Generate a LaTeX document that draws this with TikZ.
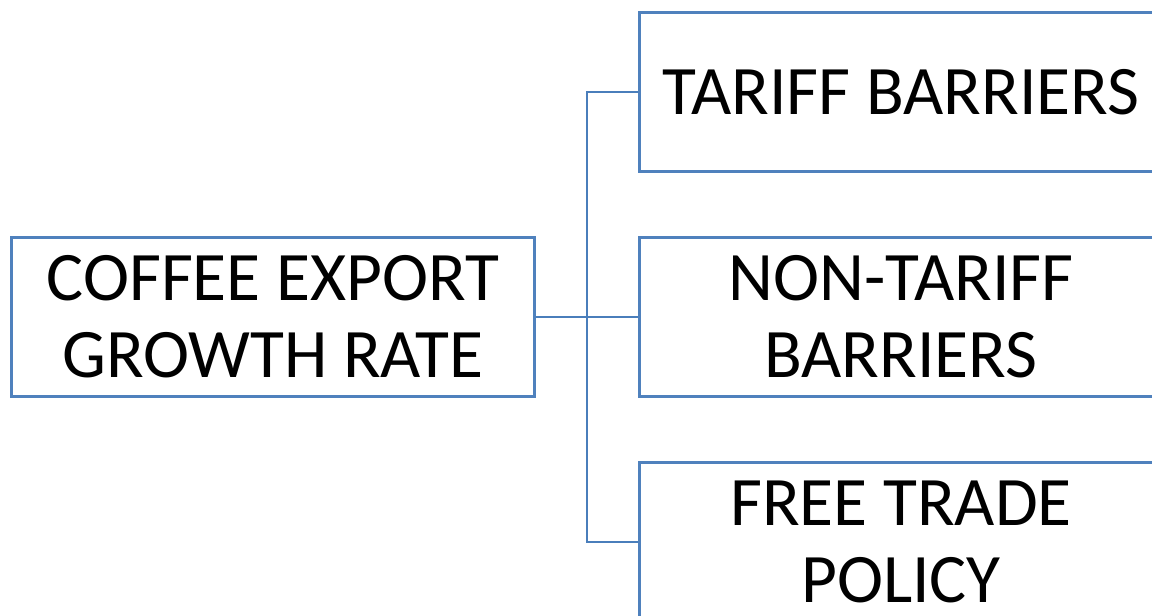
\documentclass[tikz,border=0pt]{standalone}
\usepackage{fontspec}
\setmainfont{Carlito}
\definecolor{boxblue}{HTML}{4F81BD}
\definecolor{linkblue}{HTML}{4A7EBB}
\begin{document}
\begin{tikzpicture}[x=1pt,y=-1pt,
  item/.style={draw=boxblue, line width=2.2pt, minimum width=523pt, minimum height=159pt,
    inner sep=0pt, align=center, font=\fontsize{69.5}{77}\selectfont},
  link/.style={draw=linkblue, line width=2.2pt}]
  \useasboundingbox (0,0) rectangle (1152,616);
  \node[item] (goal) at (273,317) {COFFEE EXPORT\\GROWTH RATE};
  \node[item] (tariff) at (901,92) {TARIFF BARRIERS};
  \node[item] (nontariff) at (901,317) {NON-TARIFF\\BARRIERS};
  \node[item] (free) at (901,542) {FREE TRADE\\POLICY};
  \coordinate (hub) at (587,317);
  \draw[link] (goal.east) -- (hub);
  \draw[link] (tariff.west) -- (hub |- tariff.west) -- (hub |- free.west) -- (free.west);
  \draw[link] (hub) -- (nontariff.west);
\end{tikzpicture}
\end{document}
